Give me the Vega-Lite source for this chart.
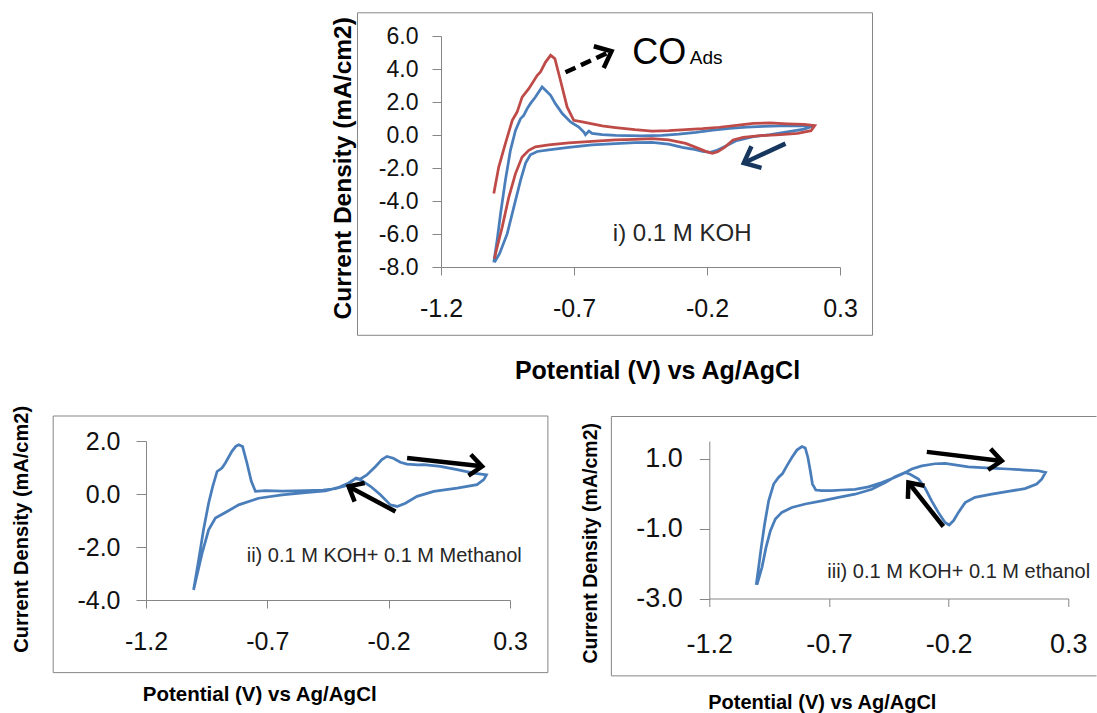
{
  "$schema": "https://vega.github.io/schema/vega-lite/v6.json",
  "autosize": {"type": "pad"},
  "padding": {"left": 11, "top": 12, "right": 0, "bottom": 0},
  "background": "white",
  "config": {
    "view": {"stroke": null},
    "axis": {"grid": false, "domainColor": "#868686", "tickColor": "#868686", "domainWidth": 1, "tickWidth": 1, "labelFont": "Liberation Sans", "titleFont": "Liberation Sans", "labelColor": "#111111", "titleColor": "#000000", "titleFontWeight": "bold", "labelFlush": false, "labelOverlap": false, "labelBound": false},
    "text": {"font": "Liberation Sans"}
  },
  "datasets": {
    "koh": [
      {"series": "0.1 M KOH", "k": 0, "E": -1.0015, "j": -7.72},
      {"series": "0.1 M KOH", "k": 1, "E": -0.989, "j": -6.38},
      {"series": "0.1 M KOH", "k": 2, "E": -0.976, "j": -4.76},
      {"series": "0.1 M KOH", "k": 3, "E": -0.958, "j": -2.75},
      {"series": "0.1 M KOH", "k": 4, "E": -0.939, "j": -0.93},
      {"series": "0.1 M KOH", "k": 5, "E": -0.920, "j": 0.28},
      {"series": "0.1 M KOH", "k": 6, "E": -0.901, "j": 0.99},
      {"series": "0.1 M KOH", "k": 7, "E": -0.889, "j": 1.19},
      {"series": "0.1 M KOH", "k": 8, "E": -0.876, "j": 1.60},
      {"series": "0.1 M KOH", "k": 9, "E": -0.864, "j": 1.90},
      {"series": "0.1 M KOH", "k": 10, "E": -0.845, "j": 2.30},
      {"series": "0.1 M KOH", "k": 11, "E": -0.832, "j": 2.62},
      {"series": "0.1 M KOH", "k": 12, "E": -0.820, "j": 2.91},
      {"series": "0.1 M KOH", "k": 13, "E": -0.807, "j": 2.71},
      {"series": "0.1 M KOH", "k": 14, "E": -0.788, "j": 2.41},
      {"series": "0.1 M KOH", "k": 15, "E": -0.770, "j": 1.90},
      {"series": "0.1 M KOH", "k": 16, "E": -0.744, "j": 1.30},
      {"series": "0.1 M KOH", "k": 17, "E": -0.713, "j": 0.79},
      {"series": "0.1 M KOH", "k": 18, "E": -0.682, "j": 0.48},
      {"series": "0.1 M KOH", "k": 19, "E": -0.663, "j": 0.18},
      {"series": "0.1 M KOH", "k": 20, "E": -0.657, "j": 0.02},
      {"series": "0.1 M KOH", "k": 21, "E": -0.644, "j": 0.24},
      {"series": "0.1 M KOH", "k": 22, "E": -0.632, "j": 0.10},
      {"series": "0.1 M KOH", "k": 23, "E": -0.594, "j": 0.03},
      {"series": "0.1 M KOH", "k": 24, "E": -0.544, "j": -0.02},
      {"series": "0.1 M KOH", "k": 25, "E": -0.446, "j": -0.05},
      {"series": "0.1 M KOH", "k": 26, "E": -0.369, "j": -0.02},
      {"series": "0.1 M KOH", "k": 27, "E": -0.306, "j": 0.05},
      {"series": "0.1 M KOH", "k": 28, "E": -0.242, "j": 0.16},
      {"series": "0.1 M KOH", "k": 29, "E": -0.178, "j": 0.30},
      {"series": "0.1 M KOH", "k": 30, "E": -0.115, "j": 0.40},
      {"series": "0.1 M KOH", "k": 31, "E": -0.051, "j": 0.47},
      {"series": "0.1 M KOH", "k": 32, "E": 0.012, "j": 0.53},
      {"series": "0.1 M KOH", "k": 33, "E": 0.076, "j": 0.55},
      {"series": "0.1 M KOH", "k": 34, "E": 0.140, "j": 0.56},
      {"series": "0.1 M KOH", "k": 35, "E": 0.203, "j": 0.57},
      {"series": "0.1 M KOH", "k": 36, "E": 0.165, "j": 0.36},
      {"series": "0.1 M KOH", "k": 37, "E": 0.114, "j": 0.22},
      {"series": "0.1 M KOH", "k": 38, "E": 0.038, "j": 0.02},
      {"series": "0.1 M KOH", "k": 39, "E": -0.026, "j": -0.10},
      {"series": "0.1 M KOH", "k": 40, "E": -0.089, "j": -0.34},
      {"series": "0.1 M KOH", "k": 41, "E": -0.127, "j": -0.65},
      {"series": "0.1 M KOH", "k": 42, "E": -0.166, "j": -0.95},
      {"series": "0.1 M KOH", "k": 43, "E": -0.188, "j": -1.05},
      {"series": "0.1 M KOH", "k": 44, "E": -0.217, "j": -0.99},
      {"series": "0.1 M KOH", "k": 45, "E": -0.255, "j": -0.85},
      {"series": "0.1 M KOH", "k": 46, "E": -0.293, "j": -0.75},
      {"series": "0.1 M KOH", "k": 47, "E": -0.344, "j": -0.55},
      {"series": "0.1 M KOH", "k": 48, "E": -0.407, "j": -0.44},
      {"series": "0.1 M KOH", "k": 49, "E": -0.471, "j": -0.46},
      {"series": "0.1 M KOH", "k": 50, "E": -0.544, "j": -0.52},
      {"series": "0.1 M KOH", "k": 51, "E": -0.632, "j": -0.60},
      {"series": "0.1 M KOH", "k": 52, "E": -0.720, "j": -0.75},
      {"series": "0.1 M KOH", "k": 53, "E": -0.795, "j": -0.90},
      {"series": "0.1 M KOH", "k": 54, "E": -0.838, "j": -1.00},
      {"series": "0.1 M KOH", "k": 55, "E": -0.864, "j": -1.20},
      {"series": "0.1 M KOH", "k": 56, "E": -0.882, "j": -1.70},
      {"series": "0.1 M KOH", "k": 57, "E": -0.901, "j": -2.75},
      {"series": "0.1 M KOH", "k": 58, "E": -0.926, "j": -4.36},
      {"series": "0.1 M KOH", "k": 59, "E": -0.951, "j": -5.98},
      {"series": "0.1 M KOH", "k": 60, "E": -0.980, "j": -7.19},
      {"series": "0.1 M KOH", "k": 61, "E": -0.999, "j": -7.72},
      {"series": "CO ads", "k": 0, "E": -1.0015, "j": -3.55},
      {"series": "CO ads", "k": 1, "E": -0.983, "j": -1.94},
      {"series": "CO ads", "k": 2, "E": -0.958, "j": -0.52},
      {"series": "CO ads", "k": 3, "E": -0.932, "j": 0.89},
      {"series": "CO ads", "k": 4, "E": -0.914, "j": 1.39},
      {"series": "CO ads", "k": 5, "E": -0.895, "j": 2.30},
      {"series": "CO ads", "k": 6, "E": -0.870, "j": 2.81},
      {"series": "CO ads", "k": 7, "E": -0.838, "j": 3.62},
      {"series": "CO ads", "k": 8, "E": -0.826, "j": 3.82},
      {"series": "CO ads", "k": 9, "E": -0.807, "j": 4.42},
      {"series": "CO ads", "k": 10, "E": -0.788, "j": 4.83},
      {"series": "CO ads", "k": 11, "E": -0.772, "j": 4.63},
      {"series": "CO ads", "k": 12, "E": -0.751, "j": 3.32},
      {"series": "CO ads", "k": 13, "E": -0.726, "j": 1.70},
      {"series": "CO ads", "k": 14, "E": -0.701, "j": 0.89},
      {"series": "CO ads", "k": 15, "E": -0.669, "j": 0.79},
      {"series": "CO ads", "k": 16, "E": -0.594, "j": 0.55},
      {"series": "CO ads", "k": 17, "E": -0.544, "j": 0.45},
      {"series": "CO ads", "k": 18, "E": -0.471, "j": 0.32},
      {"series": "CO ads", "k": 19, "E": -0.407, "j": 0.24},
      {"series": "CO ads", "k": 20, "E": -0.344, "j": 0.26},
      {"series": "CO ads", "k": 21, "E": -0.280, "j": 0.32},
      {"series": "CO ads", "k": 22, "E": -0.217, "j": 0.38},
      {"series": "CO ads", "k": 23, "E": -0.153, "j": 0.47},
      {"series": "CO ads", "k": 24, "E": -0.089, "j": 0.59},
      {"series": "CO ads", "k": 25, "E": -0.026, "j": 0.70},
      {"series": "CO ads", "k": 26, "E": 0.038, "j": 0.73},
      {"series": "CO ads", "k": 27, "E": 0.101, "j": 0.68},
      {"series": "CO ads", "k": 28, "E": 0.165, "j": 0.64},
      {"series": "CO ads", "k": 29, "E": 0.205, "j": 0.57},
      {"series": "CO ads", "k": 30, "E": 0.191, "j": 0.26},
      {"series": "CO ads", "k": 31, "E": 0.140, "j": 0.10},
      {"series": "CO ads", "k": 32, "E": 0.076, "j": 0.02},
      {"series": "CO ads", "k": 33, "E": 0.000, "j": -0.04},
      {"series": "CO ads", "k": 34, "E": -0.064, "j": -0.14},
      {"series": "CO ads", "k": 35, "E": -0.102, "j": -0.30},
      {"series": "CO ads", "k": 36, "E": -0.134, "j": -0.75},
      {"series": "CO ads", "k": 37, "E": -0.160, "j": -1.02},
      {"series": "CO ads", "k": 38, "E": -0.180, "j": -1.11},
      {"series": "CO ads", "k": 39, "E": -0.205, "j": -0.99},
      {"series": "CO ads", "k": 40, "E": -0.242, "j": -0.75},
      {"series": "CO ads", "k": 41, "E": -0.280, "j": -0.51},
      {"series": "CO ads", "k": 42, "E": -0.344, "j": -0.30},
      {"series": "CO ads", "k": 43, "E": -0.407, "j": -0.22},
      {"series": "CO ads", "k": 44, "E": -0.471, "j": -0.26},
      {"series": "CO ads", "k": 45, "E": -0.544, "j": -0.30},
      {"series": "CO ads", "k": 46, "E": -0.632, "j": -0.38},
      {"series": "CO ads", "k": 47, "E": -0.720, "j": -0.48},
      {"series": "CO ads", "k": 48, "E": -0.795, "j": -0.60},
      {"series": "CO ads", "k": 49, "E": -0.845, "j": -0.72},
      {"series": "CO ads", "k": 50, "E": -0.870, "j": -0.93},
      {"series": "CO ads", "k": 51, "E": -0.895, "j": -1.33},
      {"series": "CO ads", "k": 52, "E": -0.920, "j": -2.34},
      {"series": "CO ads", "k": 53, "E": -0.945, "j": -3.76},
      {"series": "CO ads", "k": 54, "E": -0.970, "j": -5.58},
      {"series": "CO ads", "k": 55, "E": -0.992, "j": -6.99},
      {"series": "CO ads", "k": 56, "E": -0.999, "j": -7.50}
    ],
    "meoh": [
      {"k": 0, "E": -1.004, "j": -3.62}, {"k": 1, "E": -0.983, "j": -2.49}, {"k": 2, "E": -0.963, "j": -1.35},
      {"k": 3, "E": -0.942, "j": -0.35}, {"k": 4, "E": -0.925, "j": 0.29}, {"k": 5, "E": -0.907, "j": 0.85},
      {"k": 6, "E": -0.887, "j": 0.98}, {"k": 7, "E": -0.873, "j": 1.17}, {"k": 8, "E": -0.846, "j": 1.61},
      {"k": 9, "E": -0.830, "j": 1.80}, {"k": 10, "E": -0.818, "j": 1.86}, {"k": 11, "E": -0.802, "j": 1.79},
      {"k": 12, "E": -0.784, "j": 1.17}, {"k": 13, "E": -0.766, "j": 0.48}, {"k": 14, "E": -0.749, "j": 0.10},
      {"k": 15, "E": -0.708, "j": 0.13}, {"k": 16, "E": -0.639, "j": 0.11}, {"k": 17, "E": -0.543, "j": 0.13},
      {"k": 18, "E": -0.470, "j": 0.15}, {"k": 19, "E": -0.420, "j": 0.20}, {"k": 20, "E": -0.380, "j": 0.30},
      {"k": 21, "E": -0.352, "j": 0.48}, {"k": 22, "E": -0.335, "j": 0.60}, {"k": 23, "E": -0.318, "j": 0.56},
      {"k": 24, "E": -0.290, "j": 0.72}, {"k": 25, "E": -0.255, "j": 1.03}, {"k": 26, "E": -0.228, "j": 1.30},
      {"k": 27, "E": -0.207, "j": 1.42}, {"k": 28, "E": -0.181, "j": 1.35}, {"k": 29, "E": -0.152, "j": 1.20},
      {"k": 30, "E": -0.125, "j": 1.13}, {"k": 31, "E": -0.080, "j": 1.10}, {"k": 32, "E": -0.056, "j": 1.11},
      {"k": 33, "E": 0.013, "j": 1.04}, {"k": 34, "E": 0.082, "j": 0.92}, {"k": 35, "E": 0.150, "j": 0.79},
      {"k": 36, "E": 0.203, "j": 0.72}, {"k": 37, "E": 0.192, "j": 0.54}, {"k": 38, "E": 0.164, "j": 0.35},
      {"k": 39, "E": 0.082, "j": 0.22}, {"k": 40, "E": -0.014, "j": 0.10}, {"k": 41, "E": -0.083, "j": -0.09},
      {"k": 42, "E": -0.131, "j": -0.35}, {"k": 43, "E": -0.165, "j": -0.47}, {"k": 44, "E": -0.193, "j": -0.41},
      {"k": 45, "E": -0.234, "j": -0.03}, {"k": 46, "E": -0.275, "j": 0.29}, {"k": 47, "E": -0.317, "j": 0.54},
      {"k": 48, "E": -0.338, "j": 0.58}, {"k": 49, "E": -0.365, "j": 0.42}, {"k": 50, "E": -0.402, "j": 0.26},
      {"k": 51, "E": -0.461, "j": 0.12}, {"k": 52, "E": -0.543, "j": 0.05}, {"k": 53, "E": -0.639, "j": -0.03},
      {"k": 54, "E": -0.736, "j": -0.16}, {"k": 55, "E": -0.818, "j": -0.41}, {"k": 56, "E": -0.873, "j": -0.70},
      {"k": 57, "E": -0.914, "j": -0.91}, {"k": 58, "E": -0.942, "j": -1.35}, {"k": 59, "E": -0.969, "j": -2.24},
      {"k": 60, "E": -1.004, "j": -3.62}
    ],
    "etoh": [
      {"k": 0, "E": -1.004, "j": -2.61}, {"k": 1, "E": -0.994, "j": -2.11}, {"k": 2, "E": -0.983, "j": -1.54},
      {"k": 3, "E": -0.969, "j": -0.88}, {"k": 4, "E": -0.952, "j": -0.21}, {"k": 5, "E": -0.931, "j": 0.27},
      {"k": 6, "E": -0.911, "j": 0.46}, {"k": 7, "E": -0.894, "j": 0.57}, {"k": 8, "E": -0.876, "j": 0.79},
      {"k": 9, "E": -0.855, "j": 1.03}, {"k": 10, "E": -0.834, "j": 1.24}, {"k": 11, "E": -0.813, "j": 1.34},
      {"k": 12, "E": -0.799, "j": 1.30}, {"k": 13, "E": -0.788, "j": 1.03}, {"k": 14, "E": -0.778, "j": 0.65},
      {"k": 15, "E": -0.769, "j": 0.27}, {"k": 16, "E": -0.755, "j": 0.10}, {"k": 17, "E": -0.730, "j": 0.08},
      {"k": 18, "E": -0.688, "j": 0.08}, {"k": 19, "E": -0.646, "j": 0.10}, {"k": 20, "E": -0.591, "j": 0.12},
      {"k": 21, "E": -0.535, "j": 0.19}, {"k": 22, "E": -0.479, "j": 0.31}, {"k": 23, "E": -0.431, "j": 0.44},
      {"k": 24, "E": -0.389, "j": 0.57}, {"k": 25, "E": -0.354, "j": 0.70}, {"k": 26, "E": -0.312, "j": 0.79},
      {"k": 27, "E": -0.257, "j": 0.85}, {"k": 28, "E": -0.215, "j": 0.86}, {"k": 29, "E": -0.173, "j": 0.82},
      {"k": 30, "E": -0.118, "j": 0.76}, {"k": 31, "E": -0.062, "j": 0.74}, {"k": 32, "E": -0.006, "j": 0.72},
      {"k": 33, "E": 0.049, "j": 0.70}, {"k": 34, "E": 0.119, "j": 0.67}, {"k": 35, "E": 0.175, "j": 0.65},
      {"k": 36, "E": 0.205, "j": 0.60}, {"k": 37, "E": 0.189, "j": 0.41}, {"k": 38, "E": 0.168, "j": 0.27},
      {"k": 39, "E": 0.119, "j": 0.14}, {"k": 40, "E": 0.049, "j": 0.06}, {"k": 41, "E": -0.020, "j": -0.02},
      {"k": 42, "E": -0.090, "j": -0.11}, {"k": 43, "E": -0.131, "j": -0.26}, {"k": 44, "E": -0.159, "j": -0.54},
      {"k": 45, "E": -0.180, "j": -0.78}, {"k": 46, "E": -0.198, "j": -0.90}, {"k": 47, "E": -0.215, "j": -0.83},
      {"k": 48, "E": -0.243, "j": -0.54}, {"k": 49, "E": -0.271, "j": -0.21}, {"k": 50, "E": -0.298, "j": 0.15},
      {"k": 51, "E": -0.326, "j": 0.41}, {"k": 52, "E": -0.361, "j": 0.55}, {"k": 53, "E": -0.382, "j": 0.60},
      {"k": 54, "E": -0.424, "j": 0.48}, {"k": 55, "E": -0.465, "j": 0.31}, {"k": 56, "E": -0.521, "j": 0.12},
      {"k": 57, "E": -0.591, "j": -0.02}, {"k": 58, "E": -0.660, "j": -0.11}, {"k": 59, "E": -0.730, "j": -0.21},
      {"k": 60, "E": -0.799, "j": -0.30}, {"k": 61, "E": -0.855, "j": -0.40}, {"k": 62, "E": -0.897, "j": -0.54},
      {"k": 63, "E": -0.924, "j": -0.73}, {"k": 64, "E": -0.945, "j": -1.07}, {"k": 65, "E": -0.963, "j": -1.54},
      {"k": 66, "E": -0.980, "j": -2.11}, {"k": 67, "E": -1.001, "j": -2.61}
    ]
  },
  "bounds": "flush",
  "spacing": 405,
  "vconcat": [
    {
      "bounds": "flush",
      "spacing": 0,
      "hconcat": [
        {"width": 295, "height": 231, "data": {"values": [{}]}, "mark": {"type": "point", "opacity": 0}},
        {
          "width": 399,
          "height": 231,
          "layer": [
            {
              "data": {"name": "koh"},
              "mark": {"type": "line", "strokeWidth": 2.75},
              "encoding": {
                "x": {"field": "E", "type": "quantitative", "scale": {"domain": [-1.2, 0.3], "nice": false, "zero": false},
                  "axis": {"values": [-1.2, -0.7, -0.2, 0.3], "tickCount": 10, "labelOverlap": false, "labelExpr": "replace(format(datum.value, '.1f'), '\u2212', '-')", "labelFontSize": 25, "labelPadding": 21, "tickSize": 8,
                    "title": "Potential (V) vs Ag/AgCl", "titleFontSize": 25, "titleX": 216, "titleY": 111.6, "titleBaseline": "alphabetic", "titleAlign": "center"}},
                "y": {"field": "j", "type": "quantitative", "scale": {"domain": [-8, 6], "nice": false, "zero": false},
                  "axis": {"values": [-8, -6, -4, -2, 0, 2, 4, 6], "tickCount": 20, "labelOverlap": false, "labelExpr": "replace(format(datum.value, '.1f'), '\u2212', '-')", "labelFontSize": 23, "labelPadding": 14, "tickSize": 9,
                    "title": "Current Density (mA/cm2)", "titleFontSize": 24.5, "titleX": -86, "titleY": 131.8}},
                "color": {"field": "series", "type": "nominal", "scale": {"domain": ["0.1 M KOH", "CO ads"], "range": ["#4A7EBB", "#BE4B48"]}, "legend": null},
                "order": {"field": "k", "type": "quantitative"}
              }
            },
            {
              "data": {"values": [{}]},
              "mark": {"type": "rect", "filled": false, "color": "#868686", "strokeWidth": 1},
              "encoding": {
                "x": {"datum": -1.5139, "type": "quantitative"}, "x2": {"datum": 0.4222},
                "y": {"datum": 7.406, "type": "quantitative"}, "y2": {"datum": -12.139}
              }
            },
            {
              "data": {"values": [{}]},
              "mark": {"type": "rule", "color": "#000000", "strokeWidth": 4.5, "strokeDash": [11, 6]},
              "encoding": {"x": {"datum": -0.732, "type": "quantitative"}, "x2": {"datum": -0.565}, "y": {"datum": 3.8, "type": "quantitative"}, "y2": {"datum": 5.045}}
            },
            {
              "data": {"values": [{}]},
              "mark": {"type": "point", "shape": "M -1 -0.85 L 0 0 L -1 0.85", "size": 784, "filled": false, "opacity": 1, "color": "#000000", "strokeWidth": 4.5, "strokeJoin": "miter", "angle": 335.5},
              "encoding": {"x": {"datum": -0.559, "type": "quantitative"}, "y": {"datum": 5.073, "type": "quantitative"}}
            },
            {
              "data": {"values": [{}]},
              "mark": {"type": "rule", "color": "#17375E", "strokeWidth": 4.5},
              "encoding": {"x": {"datum": 0.095, "type": "quantitative"}, "x2": {"datum": -0.0617}, "y": {"datum": -0.521, "type": "quantitative"}, "y2": {"datum": -1.697}}
            },
            {
              "data": {"values": [{}]},
              "mark": {"type": "point", "shape": "M -1 -0.85 L 0 0 L -1 0.85", "size": 784, "filled": false, "opacity": 1, "color": "#17375E", "strokeWidth": 4.5, "strokeJoin": "miter", "angle": 155},
              "encoding": {"x": {"datum": -0.0617, "type": "quantitative"}, "y": {"datum": -1.697, "type": "quantitative"}}
            },
            {
              "data": {"values": [{}]},
              "mark": {"type": "text", "text": "CO", "fontSize": 36, "align": "left", "baseline": "alphabetic", "color": "#000000"},
              "encoding": {"x": {"datum": -0.4812, "type": "quantitative"}, "y": {"datum": 4.327, "type": "quantitative"}}
            },
            {
              "data": {"values": [{}]},
              "mark": {"type": "text", "text": "Ads", "fontSize": 19, "align": "left", "baseline": "alphabetic", "color": "#000000"},
              "encoding": {"x": {"datum": -0.2647, "type": "quantitative"}, "y": {"datum": 4.327, "type": "quantitative"}}
            },
            {
              "data": {"values": [{}]},
              "mark": {"type": "text", "text": "i) 0.1 M KOH", "fontSize": 24, "align": "left", "baseline": "middle", "color": "#262626"},
              "encoding": {"x": {"datum": -0.554, "type": "quantitative"}, "y": {"datum": -5.976, "type": "quantitative"}}
            }
          ]
        }
      ]
    },
    {
      "bounds": "flush",
      "spacing": 199.3,
      "hconcat": [
        {
          "width": 364,
          "height": 159,
          "layer": [
            {
              "data": {"name": "meoh"},
              "mark": {"type": "line", "strokeWidth": 2.75, "color": "#4A7EBB"},
              "encoding": {
                "x": {"field": "E", "type": "quantitative", "scale": {"domain": [-1.2, 0.3], "nice": false, "zero": false},
                  "axis": {"values": [-1.2, -0.7, -0.2, 0.3], "tickCount": 10, "labelOverlap": false, "labelExpr": "replace(format(datum.value, '.1f'), '\u2212', '-')", "labelFontSize": 25, "labelPadding": 21, "tickSize": 8,
                    "title": "Potential (V) vs Ag/AgCl", "titleFontSize": 20.5, "titleX": 113.2, "titleY": 100, "titleBaseline": "alphabetic", "titleAlign": "center"}},
                "y": {"field": "j", "type": "quantitative", "scale": {"domain": [-4, 2], "nice": false, "zero": false},
                  "axis": {"values": [-4, -2, 0, 2], "tickCount": 10, "labelOverlap": false, "labelExpr": "replace(format(datum.value, '.1f'), '\u2212', '-')", "labelFontSize": 25, "labelPadding": 16, "tickSize": 10,
                    "title": "Current Density (mA/cm2)", "titleFontSize": 20, "titleX": -114.7, "titleY": 87.8}},
                "order": {"field": "k", "type": "quantitative"}
              }
            },
            {
              "data": {"values": [{}]},
              "mark": {"type": "rect", "filled": false, "color": "#868686", "strokeWidth": 1},
              "encoding": {
                "x": {"datum": -1.5825, "type": "quantitative"}, "x2": {"datum": 0.4562},
                "y": {"datum": 2.943, "type": "quantitative"}, "y2": {"datum": -6.74}
              }
            },
            {
              "data": {"values": [{}]},
              "mark": {"type": "rule", "color": "#000000", "strokeWidth": 4.5},
              "encoding": {"x": {"datum": -0.124, "type": "quantitative"}, "x2": {"datum": 0.185}, "y": {"datum": 1.357, "type": "quantitative"}, "y2": {"datum": 1.043}}
            },
            {
              "data": {"values": [{}]},
              "mark": {"type": "point", "shape": "M -1 -0.85 L 0 0 L -1 0.85", "size": 625, "filled": false, "opacity": 1, "color": "#000000", "strokeWidth": 4.5, "strokeJoin": "miter", "angle": 6.3},
              "encoding": {"x": {"datum": 0.185, "type": "quantitative"}, "y": {"datum": 1.043, "type": "quantitative"}}
            },
            {
              "data": {"values": [{}]},
              "mark": {"type": "rule", "color": "#000000", "strokeWidth": 4.5},
              "encoding": {"x": {"datum": -0.172, "type": "quantitative"}, "x2": {"datum": -0.365}, "y": {"datum": -0.66, "type": "quantitative"}, "y2": {"datum": 0.286}}
            },
            {
              "data": {"values": [{}]},
              "mark": {"type": "point", "shape": "M -1 -0.85 L 0 0 L -1 0.85", "size": 625, "filled": false, "opacity": 1, "color": "#000000", "strokeWidth": 4.5, "strokeJoin": "miter", "angle": 208.2},
              "encoding": {"x": {"datum": -0.365, "type": "quantitative"}, "y": {"datum": 0.286, "type": "quantitative"}}
            },
            {
              "data": {"values": [{}]},
              "mark": {"type": "text", "text": "ii) 0.1 M KOH+ 0.1 M Methanol", "fontSize": 20, "align": "left", "baseline": "middle", "color": "#262626"},
              "encoding": {"x": {"datum": -0.785, "type": "quantitative"}, "y": {"datum": -2.351, "type": "quantitative"}}
            }
          ]
        },
        {
          "width": 359,
          "height": 157.5,
          "layer": [
            {
              "data": {"name": "etoh"},
              "mark": {"type": "line", "strokeWidth": 2.75, "color": "#4A7EBB"},
              "encoding": {
                "x": {"field": "E", "type": "quantitative", "scale": {"domain": [-1.2, 0.3], "nice": false, "zero": false},
                  "axis": {"values": [-1.2, -0.7, -0.2, 0.3], "tickCount": 10, "labelOverlap": false, "labelExpr": "replace(format(datum.value, '.1f'), '\u2212', '-')", "labelFontSize": 27, "labelPadding": 25, "tickSize": 8,
                    "title": "Potential (V) vs Ag/AgCl", "titleFontSize": 20, "titleX": 112.5, "titleY": 109.8, "titleBaseline": "alphabetic", "titleAlign": "center"}},
                "y": {"field": "j", "type": "quantitative", "scale": {"domain": [-3, 1.5], "nice": false, "zero": false},
                  "axis": {"values": [-3, -1, 1], "tickCount": 10, "labelOverlap": false, "labelExpr": "replace(format(datum.value, '.1f'), '\u2212', '-')", "labelFontSize": 27, "labelPadding": 17, "tickSize": 10,
                    "title": "Current Density (mA/cm2)", "titleFontSize": 19.5, "titleX": -109, "titleY": 101.8}},
                "order": {"field": "k", "type": "quantitative"}
              }
            },
            {
              "data": {"values": [{}]},
              "mark": {"type": "rule", "color": "#868686", "strokeWidth": 1},
              "encoding": {"x": {"datum": -1.6092, "type": "quantitative"}, "x2": {"datum": 0.418}, "y": {"datum": 2.2, "type": "quantitative"}}
            },
            {
              "data": {"values": [{}]},
              "mark": {"type": "rule", "color": "#868686", "strokeWidth": 1},
              "encoding": {"x": {"datum": -1.6092, "type": "quantitative"}, "x2": {"datum": 0.418}, "y": {"datum": -5.211, "type": "quantitative"}}
            },
            {
              "data": {"values": [{}]},
              "mark": {"type": "rule", "color": "#868686", "strokeWidth": 1},
              "encoding": {"x": {"datum": -1.6092, "type": "quantitative"}, "y": {"datum": 2.2, "type": "quantitative"}, "y2": {"datum": -5.211}}
            },
            {
              "data": {"values": [{}]},
              "mark": {"type": "rule", "color": "#000000", "strokeWidth": 4.5},
              "encoding": {"x": {"datum": -0.291, "type": "quantitative"}, "x2": {"datum": 0.022}, "y": {"datum": 1.189, "type": "quantitative"}, "y2": {"datum": 0.931}}
            },
            {
              "data": {"values": [{}]},
              "mark": {"type": "point", "shape": "M -1 -0.85 L 0 0 L -1 0.85", "size": 625, "filled": false, "opacity": 1, "color": "#000000", "strokeWidth": 4.5, "strokeJoin": "miter", "angle": 6.8},
              "encoding": {"x": {"datum": 0.022, "type": "quantitative"}, "y": {"datum": 0.931, "type": "quantitative"}}
            },
            {
              "data": {"values": [{}]},
              "mark": {"type": "rule", "color": "#000000", "strokeWidth": 4.5},
              "encoding": {"x": {"datum": -0.222, "type": "quantitative"}, "x2": {"datum": -0.368}, "y": {"datum": -0.943, "type": "quantitative"}, "y2": {"datum": 0.314}}
            },
            {
              "data": {"values": [{}]},
              "mark": {"type": "point", "shape": "M -1 -0.85 L 0 0 L -1 0.85", "size": 625, "filled": false, "opacity": 1, "color": "#000000", "strokeWidth": 4.5, "strokeJoin": "miter", "angle": 231.5},
              "encoding": {"x": {"datum": -0.368, "type": "quantitative"}, "y": {"datum": 0.314, "type": "quantitative"}}
            },
            {
              "data": {"values": [{}]},
              "mark": {"type": "text", "text": "iii) 0.1 M KOH+ 0.1 M ethanol", "fontSize": 20, "align": "left", "baseline": "middle", "color": "#262626"},
              "encoding": {"x": {"datum": -0.707, "type": "quantitative"}, "y": {"datum": -2.243, "type": "quantitative"}}
            }
          ]
        }
      ]
    }
  ]
}
